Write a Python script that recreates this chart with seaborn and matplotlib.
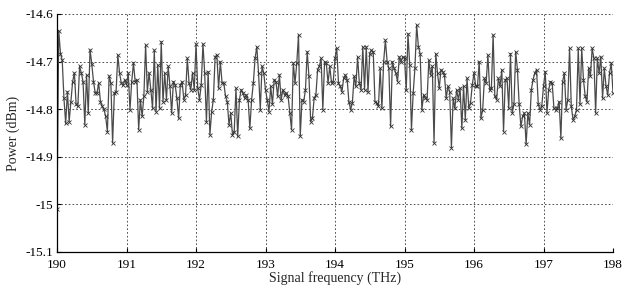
import numpy as np
import pandas as pd
import matplotlib
matplotlib.use("Agg")
import matplotlib.pyplot as plt
import seaborn as sns

# Power readings (dBm), one list per THz span, 0.025 THz steps
seg_190 = [-15.010, -14.635, -14.683, -14.697, -14.777, -14.830, -14.763, -14.826, -14.784, -14.742,
           -14.724, -14.790, -14.794, -14.710, -14.724, -14.742, -14.833, -14.728, -14.808, -14.675,
           -14.704, -14.742, -14.766, -14.766, -14.745, -14.784, -14.794, -14.800, -14.815, -14.847,
           -14.730, -14.745, -14.871, -14.766, -14.763, -14.686, -14.724, -14.745, -14.750, -14.738]
seg_191 = [-14.749, -14.724, -14.801, -14.742, -14.703, -14.742, -14.738, -14.843, -14.780, -14.815,
           -14.773, -14.665, -14.763, -14.724, -14.759, -14.798, -14.676, -14.805, -14.707, -14.798,
           -14.658, -14.784, -14.724, -14.780, -14.710, -14.752, -14.808, -14.742, -14.749, -14.777,
           -14.819, -14.749, -14.742, -14.780, -14.770, -14.693, -14.745, -14.759, -14.724, -14.759]
seg_192 = [-14.663, -14.756, -14.780, -14.749, -14.663, -14.724, -14.826, -14.721, -14.854, -14.805,
           -14.780, -14.690, -14.686, -14.756, -14.700, -14.745, -14.745, -14.773, -14.784, -14.833,
           -14.808, -14.854, -14.847, -14.756, -14.857, -14.780, -14.759, -14.766, -14.777, -14.770,
           -14.780, -14.840, -14.780, -14.745, -14.693, -14.669, -14.724, -14.801, -14.710, -14.724]
seg_193 = [-14.759, -14.780, -14.805, -14.752, -14.790, -14.738, -14.742, -14.773, -14.728, -14.780,
           -14.759, -14.770, -14.766, -14.773, -14.808, -14.843, -14.703, -14.745, -14.703, -14.644,
           -14.857, -14.780, -14.784, -14.759, -14.679, -14.731, -14.826, -14.819, -14.777, -14.770,
           -14.717, -14.710, -14.693, -14.801, -14.700, -14.703, -14.745, -14.710, -14.745, -14.742]
seg_194 = [-14.693, -14.672, -14.745, -14.752, -14.763, -14.735, -14.728, -14.738, -14.784, -14.801,
           -14.787, -14.731, -14.752, -14.690, -14.745, -14.759, -14.669, -14.759, -14.669, -14.763,
           -14.683, -14.676, -14.679, -14.784, -14.787, -14.794, -14.714, -14.798, -14.700, -14.655,
           -14.700, -14.714, -14.836, -14.700, -14.714, -14.724, -14.742, -14.690, -14.700, -14.690]
seg_195 = [-14.693, -14.759, -14.641, -14.707, -14.843, -14.766, -14.714, -14.623, -14.669, -14.683,
           -14.801, -14.770, -14.777, -14.780, -14.697, -14.728, -14.710, -14.871, -14.683, -14.724,
           -14.756, -14.717, -14.721, -14.728, -14.777, -14.752, -14.763, -14.881, -14.777, -14.798,
           -14.759, -14.780, -14.756, -14.840, -14.752, -14.822, -14.735, -14.798, -14.787, -14.749]
seg_196 = [-14.724, -14.752, -14.752, -14.700, -14.819, -14.801, -14.735, -14.745, -14.686, -14.759,
           -14.756, -14.644, -14.773, -14.780, -14.735, -14.752, -14.717, -14.847, -14.738, -14.735,
           -14.798, -14.683, -14.808, -14.790, -14.679, -14.717, -14.790, -14.836, -14.815, -14.808,
           -14.874, -14.808, -14.833, -14.759, -14.738, -14.724, -14.717, -14.790, -14.801, -14.794]
seg_197 = [-14.752, -14.721, -14.808, -14.759, -14.742, -14.745, -14.798, -14.801, -14.798, -14.784,
           -14.861, -14.742, -14.724, -14.801, -14.780, -14.672, -14.794, -14.822, -14.815, -14.801,
           -14.672, -14.790, -14.672, -14.738, -14.773, -14.784, -14.714, -14.731, -14.672, -14.693,
           -14.808, -14.693, -14.724, -14.690, -14.777, -14.714, -14.752, -14.770, -14.724, -14.703,
           -14.766]

power = seg_190 + seg_191 + seg_192 + seg_193 + seg_194 + seg_195 + seg_196 + seg_197
freq_start, freq_stop = 190.0, 198.0
freq = np.linspace(freq_start, freq_stop, len(power))

x_ticks = [190, 191, 192, 193, 194, 195, 196, 197, 198]
y_ticks = [-15.1, -15.0, -14.9, -14.8, -14.7, -14.6]
y_tick_labels = ["-15.1", "-15", "-14.9", "-14.8", "-14.7", "-14.6"]

df = pd.DataFrame({"freq": freq, "power": power})

sns.set_style("white")
plt.rcParams["font.family"] = ["Liberation Serif", "DejaVu Serif"]

fig = plt.figure(figsize=(6.23, 2.86), dpi=100)
ax = fig.add_axes([57 / 623, 1 - 252 / 286, (613 - 57) / 623, (252 - 14) / 286])

sns.lineplot(data=df, x="freq", y="power", ax=ax, sort=False, estimator=None,
             color="#4a4a4a", linewidth=0.9, marker="x", markersize=3.2,
             markeredgewidth=0.6, markeredgecolor="#333333")

ax.set_xlim(freq_start, freq_stop)
ax.set_ylim(-15.1, -14.6)
ax.set_xticks(x_ticks)
ax.set_xticklabels([str(t) for t in x_ticks])
ax.set_yticks(y_ticks)
ax.set_yticklabels(y_tick_labels)

ax.grid(True, color="#333333", linestyle=(0, (2, 2.5)), linewidth=0.6)
ax.set_axisbelow(True)
for s in ["top", "right"]:
    ax.spines[s].set_visible(False)
for s in ["left", "bottom"]:
    ax.spines[s].set_color("black")
    ax.spines[s].set_linewidth(0.9)

ax.tick_params(axis="both", direction="in", length=3, width=0.8, labelsize=9.5,
               colors="black", bottom=True, left=True)
ax.tick_params(axis="x", pad=5)
ax.tick_params(axis="y", pad=3)
ax.set_xlabel("Signal frequency (THz)", fontsize=10, labelpad=0)
ax.set_ylabel("Power (dBm)", fontsize=10, labelpad=4)

fig.savefig("out.png", dpi=100, facecolor="white")
